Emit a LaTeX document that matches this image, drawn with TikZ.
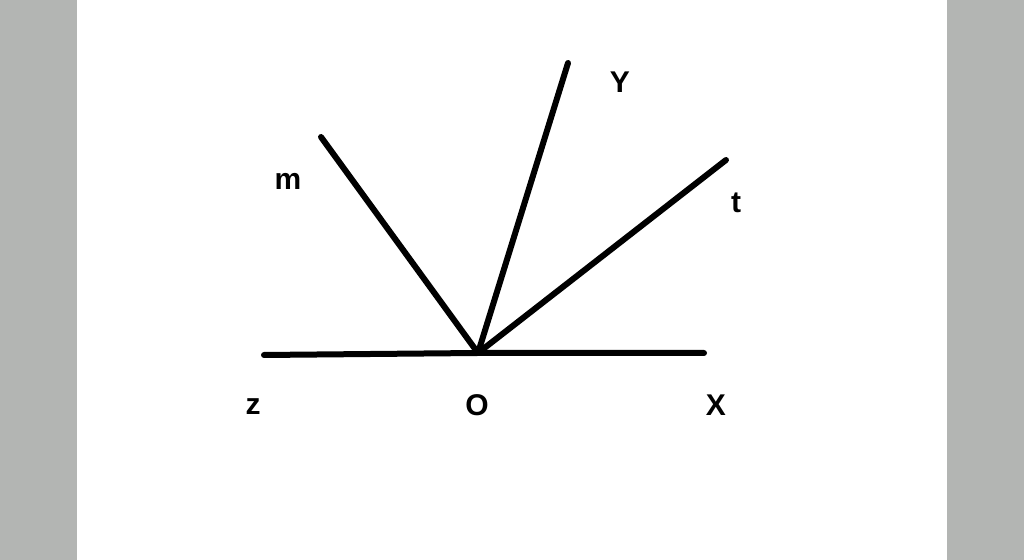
\documentclass[tikz,border=0pt]{standalone}
\usepackage{fontspec}
\setmainfont{Liberation Sans}
\definecolor{bandgray}{RGB}{179,181,179}

\begin{document}
\begin{tikzpicture}[x=0.5pt,y=-0.5pt,
    ray/.style={line width=3pt,line cap=round},
    lab/.style={font=\fontsize{15}{18}\selectfont\bfseries,inner sep=0pt}]
    \useasboundingbox (0,0) rectangle (1024,560);
    \fill[bandgray] (0,0) rectangle (1024,560);
    \fill[white] (77,0) rectangle (947,560);

    \coordinate (O) at (478,353);
    \coordinate (zend) at (264,355);
    \coordinate (xend) at (704,353);
    \coordinate (mend) at (321,137);
    \coordinate (yend) at (568,63);
    \coordinate (tend) at (726,160);

    \draw[ray] (zend) -- (O) -- (xend);
    \draw[ray] (O) -- (mend);
    \draw[ray] (O) -- (yend);
    \draw[ray] (O) -- (tend);

    \node[lab] (mlab) at (288,181) {m};
    \node[lab] (ylab) at (620,82) {Y};
    \node[lab] (tlab) at (736,203) {t};
    \node[lab] (zlab) at (253,407) {z};
    \node[lab] (olab) at (477,405) {O};
    \node[lab] (xlab) at (716,405) {X};
\end{tikzpicture}
\end{document}
